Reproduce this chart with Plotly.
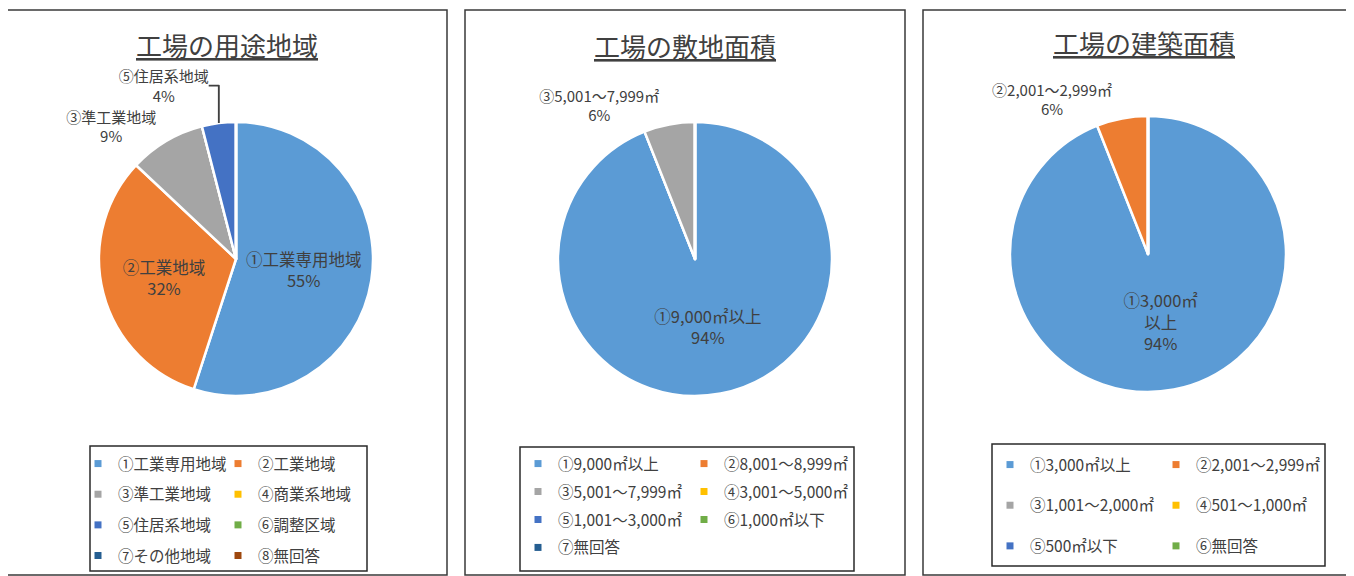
import plotly.graph_objects as go

W, H = 1354, 576
# the page body keeps the browser's default 8px margin, so the figure's
# origin sits at (8, 8) in the screenshot
OX, OY = 8, 8
FONT = "Noto Sans CJK JP"
TXT = "#404040"

# ---------------- data ----------------
titles = ["工場の用途地域", "工場の敷地面積", "工場の建築面積"]

use_labels = ["①工業専用地域", "②工業地域", "③準工業地域", "④商業系地域",
              "⑤住居系地域", "⑥調整区域", "⑦その他地域", "⑧無回答"]
use_text = ["①工業専用地域", "②工業地域", "③準工業地域", "④商業系地域",
            "⑤住居系地域", "⑥調整区域", "⑦その他地域", "⑧無回答"]
use_values = [55, 32, 9, 0, 4, 0, 0, 0]
use_colors = ["#5B9BD5", "#ED7D31", "#A5A5A5", "#FFC000",
              "#4472C4", "#70AD47", "#255E91", "#9E480E"]

site_labels = ["①9,000㎡以上", "②8,001～8,999㎡", "③5,001～7,999㎡", "④3,001～5,000㎡",
               "⑤1,001～3,000㎡", "⑥1,000㎡以下", "⑦無回答"]
site_text = ["①9,000㎡以上", "②8,001～8,999㎡", "③5,001～7,999㎡", "④3,001～5,000㎡",
             "⑤1,001～3,000㎡", "⑥1,000㎡以下", "⑦無回答"]
site_values = [94, 0, 6, 0, 0, 0, 0]
site_colors = ["#5B9BD5", "#ED7D31", "#A5A5A5", "#FFC000",
               "#4472C4", "#70AD47", "#255E91"]

bldg_labels = ["①3,000㎡以上", "②2,001～2,999㎡", "③1,001～2,000㎡", "④501～1,000㎡",
               "⑤500㎡以下", "⑥無回答"]
bldg_text = ["①3,000㎡<br>以上", "②2,001～2,999㎡", "③1,001～2,000㎡", "④501～1,000㎡",
             "⑤500㎡以下", "⑥無回答"]
bldg_values = [94, 6, 0, 0, 0, 0]
bldg_colors = ["#5B9BD5", "#ED7D31", "#A5A5A5", "#FFC000", "#4472C4", "#70AD47"]

panels = [
    dict(labels=use_labels, text=use_text, values=use_values, colors=use_colors),
    dict(labels=site_labels, text=site_text, values=site_values, colors=site_colors),
    dict(labels=bldg_labels, text=bldg_text, values=bldg_values, colors=bldg_colors),
]

# ---------------- layout geometry (screen pixels) ----------------
pie_geom = [(236, 259, 137), (695, 259, 137), (1148, 254, 138)]  # cx, cy, r
frames = [(7, 10, 447, 575), (465, 10, 905, 575), (923, 10, 1350, 575)]
legend_boxes = [(90, 446, 367, 571), (520, 447, 854, 571), (992, 444, 1325, 566)]
title_pos = [(227, 44), (685, 45), (1144, 43)]
# left x of each legend column, top y, gap between rows
legend_cols = [((78, 218), 447, 7.5), ((518, 684), 447, 4.8), ((990, 1156), 448, 17.5)]


def px(x):
    return (x - OX) / W


def py(y):
    return 1 - (y - OY) / H


fig = go.Figure()

for i, p in enumerate(panels):
    cx, cy, r = pie_geom[i]
    total = sum(p["values"])
    tmpl = [("%{text}<br>%{percent:.0%}" if v > 0 else "") for v in p["values"]]
    tpos = [("inside" if v / total > 0.2 else ("outside" if v > 0 else "none")) for v in p["values"]]
    fig.add_trace(go.Pie(
        labels=p["labels"], values=p["values"], text=p["text"],
        marker=dict(colors=p["colors"], line=dict(color="white", width=2.5)),
        sort=False, direction="clockwise", rotation=0,
        texttemplate=tmpl, textposition=tpos,
        insidetextorientation="horizontal",
        insidetextfont=dict(family=FONT, size=16.5, color=TXT),
        outsidetextfont=dict(family=FONT, size=15, color=TXT),
        domain=dict(x=[px(cx - r), px(cx + r)], y=[py(cy + r), py(cy - r)]),
        showlegend=False, hoverinfo="label+percent",
    ))

# legend entries (two columns per panel)
legend_layouts = {}
for i, p in enumerate(panels):
    (lx, rx), top, gap = legend_cols[i]
    for col, x0 in enumerate((lx, rx)):
        key = "legend" if (i == 0 and col == 0) else f"legend{2 * i + col + 1}"
        legend_layouts[key] = dict(
            x=px(x0), y=py(top), xanchor="left", yanchor="top",
            orientation="v", traceorder="grouped", tracegroupgap=gap,
            font=dict(family=FONT, size=15.5, color=TXT),
            bgcolor="rgba(0,0,0,0)", borderwidth=0,
            itemclick=False, itemdoubleclick=False,
        )
        for j in range(col, len(p["labels"]), 2):
            fig.add_trace(go.Scatter(
                x=[None], y=[None], mode="markers",
                marker=dict(symbol="square", size=7, color=p["colors"][j]),
                name=p["labels"][j], legend=key,
                legendgroup=f"p{i}_{j}", showlegend=True, hoverinfo="skip",
            ))

shapes = []
for (x0, y0, x1, y1) in frames:
    shapes.append(dict(type="rect", xref="paper", yref="paper",
                       x0=px(x0), x1=px(x1), y0=py(y1), y1=py(y0),
                       line=dict(color="#3a3a3a", width=1.5), fillcolor="rgba(0,0,0,0)"))
for (x0, y0, x1, y1) in legend_boxes:
    shapes.append(dict(type="rect", xref="paper", yref="paper",
                       x0=px(x0), x1=px(x1), y0=py(y1), y1=py(y0),
                       line=dict(color="#2a2a2a", width=1.5), fillcolor="rgba(0,0,0,0)"))

annotations = []
for t, (tx, ty) in zip(titles, title_pos):
    annotations.append(dict(text=f"<u>{t}</u>", x=px(tx), y=py(ty), xref="paper", yref="paper",
                            xanchor="center", yanchor="middle", showarrow=False,
                            font=dict(family=FONT, size=26, color=TXT)))

fig.update_layout(
    width=W, height=H,
    margin=dict(l=0, r=0, t=0, b=0),
    paper_bgcolor="white", plot_bgcolor="white",
    xaxis=dict(visible=False), yaxis=dict(visible=False),
    shapes=shapes, annotations=annotations,
    font=dict(family=FONT, color=TXT),
    **legend_layouts,
)

fig.write_html("out.html")
